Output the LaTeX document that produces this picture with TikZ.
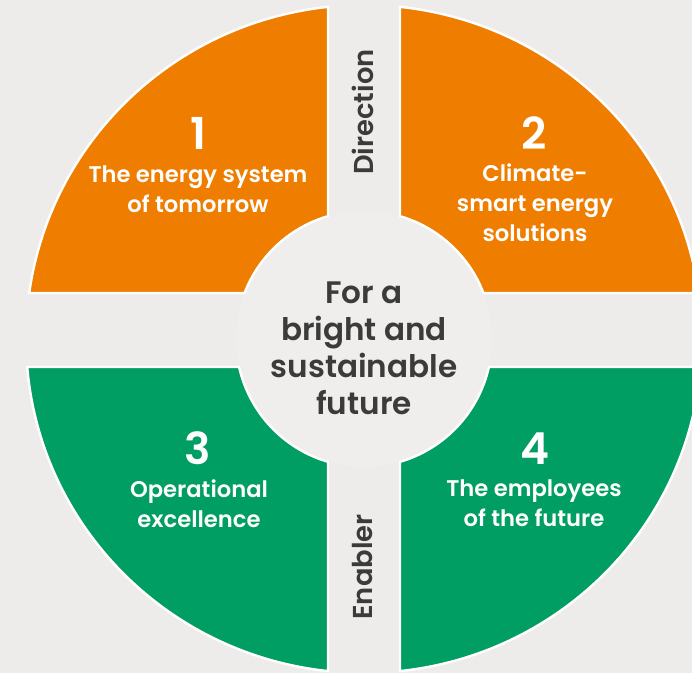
\documentclass[tikz,border=0pt]{standalone}
\usepackage{fontspec}
\setmainfont{Poppins}
\newfontfamily\mediumfont{Poppins Medium}
\newfontfamily\semifont{Poppins SemiBold}
\definecolor{bggrey}{HTML}{EDECEA}
\definecolor{hubgrey}{HTML}{EFEEEC}
\definecolor{dirorange}{HTML}{EF7D00}
\definecolor{enagreen}{HTML}{009E62}
\definecolor{inkgrey}{HTML}{3B3B3A}
\begin{document}
\begin{tikzpicture}[x=0.75pt,y=0.75pt,
    quarter/.style={draw=white,line width=1.8pt,line join=round},
    num/.style={text=white,font=\semifont\fontsize{33}{33}\selectfont,inner sep=0pt,anchor=base},
    caption/.style={text=white,font=\semifont\fontsize{17}{22.5}\selectfont,align=center,inner sep=0pt,anchor=north},
    side/.style={text=inkgrey,font=\semifont\fontsize{20.5}{20.5}\selectfont,rotate=90,inner sep=0pt}]
    %% Background
    \fill[bggrey] (0,0) rectangle (692,673);
    \useasboundingbox (0,0) rectangle (692,673);
    \coordinate (O) at (364,334);
    %% Hub
    \node[circle,fill=hubgrey,minimum size=192pt,inner sep=0pt] (hub) at (O) {};
    \node[align=center,text=inkgrey,inner sep=0pt,
          font=\semifont\fontsize{23.3}{27.75}\selectfont] (goal) at (364,325) {For a\\bright and\\sustainable\\future};
    %% Direction quarters
    \draw[quarter,fill=dirorange] ([shift={(96.11:338 and 334)}]O)
        arc[start angle=96.11,end angle=172.08,x radius=338,y radius=334]
        -- ([shift={(158.94:128)}]O) arc[start angle=158.94,end angle=106.33,radius=128] -- cycle;
    \draw[quarter,fill=dirorange] ([shift={(7.92:338 and 334)}]O)
        arc[start angle=7.92,end angle=83.89,x radius=338,y radius=334]
        -- ([shift={(73.67:128)}]O) arc[start angle=73.67,end angle=21.06,radius=128] -- cycle;
    %% Enabler quarters
    \draw[quarter,fill=enagreen] ([shift={(184.81:338 and 334)}]O)
        arc[start angle=184.81,end angle=263.89,x radius=338,y radius=334]
        -- ([shift={(253.67:128)}]O) arc[start angle=253.67,end angle=192.64,radius=128] -- cycle;
    \draw[quarter,fill=enagreen] ([shift={(-83.89:338 and 334)}]O)
        arc[start angle=-83.89,end angle=-4.81,x radius=338,y radius=334]
        -- ([shift={(-12.64:128)}]O) arc[start angle=-12.64,end angle=-73.67,radius=128] -- cycle;
    %% Numbers and captions
    \node[num] (n1) at (198,523) {1};
    \node[caption] (t1) at (198,507.5) {The energy system\\of tomorrow};
    \node[num] (n2) at (534,523) {2};
    \node[caption] (t2) at (535,509.5) {Climate-\\smart energy\\solutions};
    \node[num] (n3) at (198,208) {3};
    \node[caption] (t3) at (199,193.5) {Operational\\excellence};
    \node[num] (n4) at (535,208) {4};
    \node[caption] (t4) at (534,193.5) {The employees\\of the future};
    %% Axis labels
    \node[side] (dir) at (363,561) {Direction};
    \node[side] (ena) at (363,106) {Enabler};
\end{tikzpicture}
\end{document}
